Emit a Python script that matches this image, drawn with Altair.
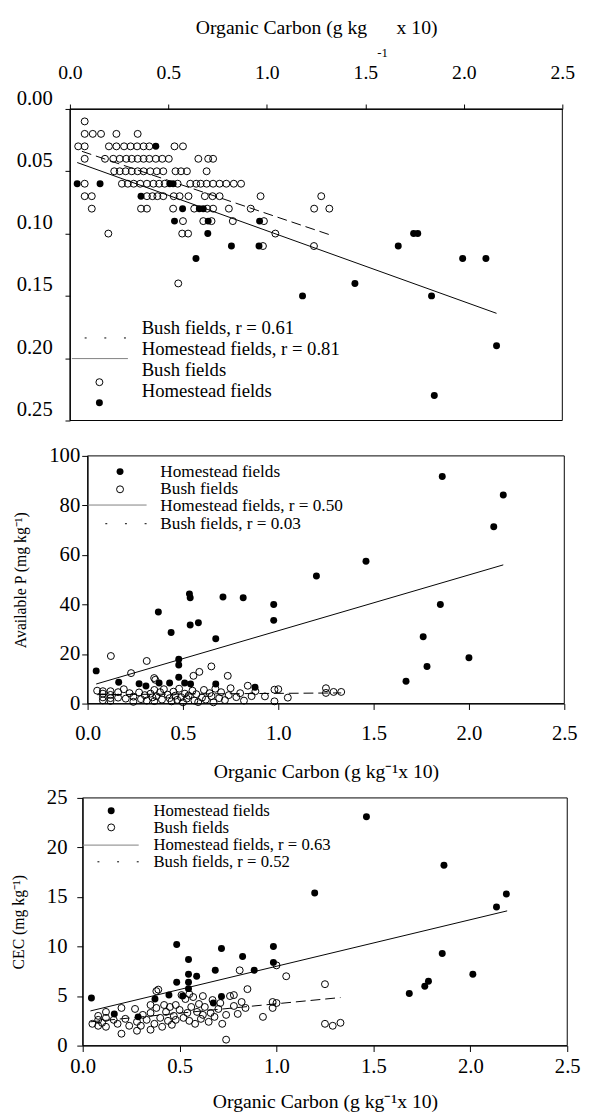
import altair as alt
import pandas as pd

FONT = "Liberation Serif"
OC_TICKS = [0.0, 0.5, 1.0, 1.5, 2.0, 2.5]
OC_DOMAIN = [0.0, 2.5]

# ---------------- Panel 1 (top) ----------------
top_bush_x = [
    0.075,
    0.075, 0.116, 0.158, 0.236, 0.344,
    0.042, 0.075, 0.198, 0.236, 0.275, 0.308, 0.341, 0.374, 0.403, 0.531, 0.574,
    0.075, 0.178, 0.220, 0.253, 0.286, 0.314, 0.344, 0.374, 0.403, 0.436, 0.469, 0.502, 0.652, 0.702, 0.727,
    0.225, 0.253, 0.283, 0.314, 0.344, 0.374, 0.408, 0.441, 0.474, 0.536, 0.564, 0.594, 0.694,
    0.075, 0.264, 0.294, 0.324, 0.357, 0.391, 0.424, 0.453, 0.481, 0.547, 0.611, 0.641, 0.664, 0.694, 0.727, 0.760, 0.794, 0.832, 0.869,
    0.075, 0.111, 0.391, 0.419, 0.444, 0.474, 0.527, 0.557, 0.602, 0.685, 0.724, 0.760, 0.968, 1.276,
    0.111, 0.361, 0.391, 0.524, 0.631, 0.697, 0.727, 0.807, 0.918, 1.240, 1.317,
    0.574, 0.677, 0.719, 0.827, 0.985,
    0.195, 0.570, 0.600, 1.043,
    0.980, 1.239,
    0.550,
]
top_bush_y = [
    0.01,
    0.02, 0.02, 0.02, 0.02, 0.02,
    0.03, 0.03, 0.03, 0.03, 0.03, 0.03, 0.03, 0.03, 0.03, 0.03, 0.03,
    0.04, 0.04, 0.04, 0.04, 0.04, 0.04, 0.04, 0.04, 0.04, 0.04, 0.04, 0.04, 0.04, 0.04, 0.04,
    0.05, 0.05, 0.05, 0.05, 0.05, 0.05, 0.05, 0.05, 0.05, 0.05, 0.05, 0.05, 0.05,
    0.06, 0.06, 0.06, 0.06, 0.06, 0.06, 0.06, 0.06, 0.06, 0.06, 0.06, 0.06, 0.06, 0.06, 0.06, 0.06, 0.06, 0.06, 0.06,
    0.07, 0.07, 0.07, 0.07, 0.07, 0.07, 0.07, 0.07, 0.07, 0.07, 0.07, 0.07, 0.07, 0.07,
    0.08, 0.08, 0.08, 0.08, 0.08, 0.08, 0.08, 0.08, 0.08, 0.08, 0.08,
    0.09, 0.09, 0.09, 0.09, 0.09,
    0.10, 0.10, 0.10, 0.10,
    0.11, 0.11,
    0.14,
]
top_home_x = [0.436, 0.037, 0.153, 0.507, 0.524, 0.361, 0.572, 0.657, 0.677, 0.531, 0.702, 0.963,
              0.700, 1.745, 1.766, 0.820, 0.960, 1.667, 0.640, 1.994, 2.112, 1.447, 1.181, 1.836, 2.166, 1.850]
top_home_y = [0.03, 0.06, 0.06, 0.06, 0.06, 0.07, 0.08, 0.08, 0.08, 0.09, 0.09, 0.09,
              0.10, 0.10, 0.10, 0.11, 0.11, 0.11, 0.12, 0.12, 0.12, 0.14, 0.15, 0.15, 0.19, 0.23]
top_home_fit_x = [0.037, 2.166]
top_home_fit_y = [0.043, 0.164]
top_bush_fit_x = [0.061, 1.320]
top_bush_fit_y = [0.034, 0.101]
top_y_ticks = [0.00, 0.05, 0.10, 0.15, 0.20, 0.25]
top_legend = ["Bush fields, r = 0.61", "Homestead fields, r = 0.81", "Bush fields", "Homestead fields"]

# ---------------- Panel 2 (Available P) ----------------
mid_home_x = [0.045, 0.163, 0.270, 0.306, 0.371, 0.375, 0.430, 0.438, 0.478, 0.478, 0.478, 0.509,
              0.534, 0.538, 0.538, 0.540, 0.581, 0.672, 0.672, 0.710, 0.816, 0.878, 0.976, 0.976,
              1.200, 1.460, 1.670, 1.760, 1.780, 1.850, 1.860, 2.000, 2.130, 2.180]
mid_home_p = [13.2, 8.6, 8.0, 7.1, 37.0, 8.3, 8.3, 28.7, 17.9, 15.6, 10.6, 8.3,
              44.3, 42.7, 31.7, 7.9, 32.6, 26.2, 7.9, 43.0, 42.7, 6.6, 40.0, 33.6,
              51.5, 57.5, 9.0, 27.0, 15.0, 40.0, 91.7, 18.5, 71.4, 84.2]
mid_bush_x = [0.05, 0.08, 0.08, 0.08, 0.08, 0.12, 0.12, 0.12, 0.12, 0.16, 0.16, 0.19, 0.20, 0.22,
              0.24, 0.24, 0.27, 0.28, 0.30, 0.31, 0.33, 0.34, 0.35, 0.35, 0.36, 0.38, 0.39, 0.40,
              0.42, 0.43, 0.44, 0.45, 0.46, 0.47, 0.48, 0.49, 0.50, 0.51, 0.52, 0.53, 0.55, 0.56,
              0.57, 0.58, 0.60, 0.61, 0.62, 0.64, 0.65, 0.66, 0.67, 0.69, 0.70, 0.72, 0.74, 0.75,
              0.78, 0.80, 0.82, 0.84, 0.86, 0.88, 0.93, 0.98, 0.98, 1.00, 1.05, 1.25, 1.25, 1.29, 1.33,
              0.122, 0.228, 0.310, 0.349, 0.355, 0.555, 0.586, 0.649, 0.735]
mid_bush_p = [5.2, 5.0, 4.0, 2.5, 1.3, 5.0, 3.5, 2.2, 1.1, 4.6, 2.4, 5.8, 2.0, 4.2,
              2.8, 0.7, 4.5, 1.8, 3.4, 1.2, 4.0, 2.5, 5.5, 1.0, 3.0, 4.6, 1.6, 5.8,
              3.6, 2.2, 0.9, 4.8, 3.2, 1.5, 6.0, 2.6, 0.5, 4.0, 2.0, 3.2, 5.2, 1.2,
              3.8, 0.6, 2.4, 5.5, 1.6, 4.2, 3.0, 0.5, 6.0, 2.2, 4.6, 1.4, 3.4, 6.2,
              2.6, 4.2, 1.2, 7.2, 3.0, 5.0, 2.9, 0.9, 5.6, 5.8, 2.4, 6.2, 4.3, 4.7, 4.7,
              19.2, 12.3, 17.2, 10.3, 9.6, 11.2, 12.8, 15.0, 11.2]
mid_home_fit_x = [0.045, 2.180]
mid_home_fit_p = [7.9, 56.0]
mid_bush_fit_x = [0.050, 1.330]
mid_bush_fit_p = [3.6, 4.3]
mid_y_ticks = [0, 20, 40, 60, 80, 100]
mid_legend = ["Homestead fields", "Bush fields", "Homestead fields, r = 0.50", "Bush fields, r = 0.03"]

# ---------------- Panel 3 (CEC) ----------------
bot_home_x = [1.464, 1.864, 1.197, 2.135, 2.186, 0.485, 0.984, 0.716, 0.546, 0.825, 0.984, 1.855,
              0.684, 0.546, 0.588, 0.885, 2.013, 0.485, 0.546, 0.546, 1.784, 1.765, 1.685, 0.445,
              0.516, 0.716, 0.373, 0.045, 0.674, 0.163, 0.286]
bot_home_c = [23.1, 18.2, 15.4, 14.0, 15.3, 10.2, 10.0, 9.8, 8.7, 9.0, 8.4, 9.3,
              7.6, 7.2, 7.0, 7.6, 7.2, 6.4, 6.4, 5.75, 6.5, 6.0, 5.25, 5.1,
              5.0, 4.96, 4.7, 4.8, 4.3, 3.2, 2.9]
bot_bush_x = [0.05, 0.08, 0.08, 0.08, 0.10, 0.12, 0.12, 0.12, 0.16, 0.18, 0.20, 0.20, 0.22, 0.24,
              0.27, 0.28, 0.28, 0.30, 0.31, 0.33, 0.35, 0.35, 0.35, 0.37, 0.38, 0.38, 0.40, 0.41,
              0.42, 0.43, 0.44, 0.45, 0.46, 0.47, 0.48, 0.48, 0.50, 0.51, 0.52, 0.53, 0.54, 0.55,
              0.56, 0.57, 0.58, 0.59, 0.60, 0.61, 0.62, 0.63, 0.65, 0.66, 0.67, 0.68, 0.70, 0.71,
              0.72, 0.74, 0.74, 0.76, 0.78, 0.80, 0.81, 0.82, 0.84, 0.85, 0.93, 0.98, 0.98, 1.00,
              1.00, 1.05, 1.25, 1.25, 1.29, 1.33, 0.39, 0.55, 0.62, 0.78]
bot_bush_c = [2.2, 3.0, 2.6, 2.0, 2.3, 3.4, 2.8, 1.9, 2.6, 2.2, 3.8, 1.2, 2.7, 2.0,
              3.7, 2.4, 1.5, 2.0, 3.1, 2.6, 4.1, 3.3, 1.6, 2.2, 5.5, 3.8, 2.8, 1.9,
              4.1, 3.4, 2.5, 3.9, 2.1, 3.0, 4.1, 2.6, 3.6, 5.1, 2.8, 4.7, 3.3, 2.5,
              3.9, 4.9, 2.2, 3.4, 4.2, 2.7, 3.1, 3.9, 2.4, 3.3, 4.6, 2.9, 3.7, 4.3,
              2.2, 3.1, 0.6, 5.0, 4.0, 3.2, 7.6, 4.4, 3.8, 5.7, 2.9, 4.4, 3.8, 8.1,
              4.3, 7.0, 6.2, 2.2, 2.0, 2.3, 5.65, 5.2, 5.0, 5.1]
bot_home_fit_x = [0.040, 2.190]
bot_home_fit_c = [3.5, 13.6]
bot_bush_fit_x = [0.040, 1.330]
bot_bush_fit_c = [2.4, 4.85]
bot_y_ticks = [0, 5, 10, 15, 20, 25]
bot_legend = ["Homestead fields", "Bush fields", "Homestead fields, r = 0.63", "Bush fields, r = 0.52"]

PT = 50
AX = dict(labelFont=FONT, titleFont=FONT, labelColor="black", titleColor="black",
          tickColor="black", domainColor="black", titleFontWeight="normal", grid=False,
          labelFlush=False, labelOverlap=False)


def df(x, y):
    return pd.DataFrame({"oc": x, "v": y})


def core_layers(xs, ys, xaxis, yaxis, ydom, bush, home, fit_h, fit_b):
    frame = alt.Chart(pd.DataFrame({"oc": [OC_DOMAIN[0]], "oc2": [OC_DOMAIN[1]],
                                    "v": [ydom[0]], "v2": [ydom[1]]})).mark_rect(
        fillOpacity=0, stroke="black", strokeWidth=1).encode(
        x=alt.X("oc:Q", scale=xs, axis=xaxis), x2="oc2",
        y=alt.Y("v:Q", scale=ys, axis=yaxis), y2="v2")
    enc = dict(x=alt.X("oc:Q", scale=xs, axis=xaxis), y=alt.Y("v:Q", scale=ys, axis=yaxis))
    lh = alt.Chart(df(*fit_h)).mark_line(color="black", strokeWidth=1).encode(**enc)
    lb = alt.Chart(df(*fit_b)).mark_line(color="black", strokeWidth=1, strokeDash=[10, 5]).encode(**enc)
    pb = alt.Chart(df(*bush)).mark_point(shape="circle", filled=False, color="black",
                                          strokeWidth=1, size=PT, opacity=1).encode(**enc)
    ph = alt.Chart(df(*home)).mark_point(shape="circle", filled=True, color="black",
                                          size=PT, opacity=1).encode(**enc)
    return [frame, lh, lb, pb, ph]


one = pd.DataFrame({"k": [0]})


def leg_text(label, x, y, size):
    return alt.Chart(pd.DataFrame({"t": [label]})).mark_text(
        align="left", baseline="middle", font=FONT, fontSize=size, color="black").encode(
        x=alt.value(x), y=alt.value(y), text="t:N")


def leg_dot(x, y, filled):
    return alt.Chart(one).mark_point(shape="circle", filled=filled, color="black",
                                     strokeWidth=1, size=PT, opacity=1).encode(
        x=alt.value(x), y=alt.value(y))


def leg_line(x1, x2, y, dash=None, color="#808080"):
    kw = dict(color=color, strokeWidth=1)
    if dash:
        kw["strokeDash"] = dash
        kw["color"] = "black"
    return alt.Chart(one).mark_rule(**kw).encode(
        x=alt.value(x1), x2=alt.value(x2), y=alt.value(y))


# ---- top panel
xs1 = alt.Scale(domain=OC_DOMAIN, nice=False, zero=False)
ys1 = alt.Scale(domain=[0, 0.25], reverse=True, nice=False)
xa1 = alt.Axis(orient="top", values=OC_TICKS, format=".1f", tickSize=5, labelPadding=22,
               title="Organic Carbon (g kg\u00a0\u00a0\u00a0\u00a0\u00a0\u00a0x 10)",
               titlePadding=26, titleFontSize=20, labelFontSize=20, **AX)
ya1 = alt.Axis(values=top_y_ticks, format=".2f", tickSize=5, labelPadding=13, labelOffset=-11,
               title=None, labelFontSize=21, **AX)
top_layers = core_layers(xs1, ys1, xa1, ya1, [0, 0.25],
                         (top_bush_x, top_bush_y), (top_home_x, top_home_y),
                         (top_home_fit_x, top_home_fit_y), (top_bush_fit_x, top_bush_fit_y))
top_layers += [
    alt.Chart(pd.DataFrame({"t": ["-1"]})).mark_text(font=FONT, fontSize=13, color="black").encode(
        x=alt.value(318), y=alt.value(-57), text="t:N"),
    leg_line(15, 57, 233, dash=[2, 18]), leg_line(2, 59, 254),
    leg_dot(30, 278, False), leg_dot(30, 299, True),
] + [leg_text(t, 73, 223 + i * 21.3, 19) for i, t in enumerate(top_legend)]
top = alt.layer(*top_layers).properties(width=501, height=317)

# ---- middle panel
xs2 = alt.Scale(domain=OC_DOMAIN, nice=False, zero=False, range=[18, 503])
ys2 = alt.Scale(domain=[0, 100], nice=False)
xa2 = alt.Axis(values=OC_TICKS, format=".1f", tickSize=6, labelPadding=14,
               title="Organic Carbon (g kg\u207b\u00b9x 10)", titlePadding=18,
               titleFontSize=20, labelFontSize=21, **AX)
ya2 = alt.Axis(values=mid_y_ticks, tickSize=6, labelPadding=2, offset=-18,
               title="Available P (mg kg\u207b\u00b9)", titlePadding=21, titleFontSize=16,
               labelFontSize=21, **AX)
mid_layers = core_layers(xs2, ys2, xa2, ya2, [0, 100],
                         (mid_bush_x, mid_bush_p), (mid_home_x, mid_home_p),
                         (mid_home_fit_x, mid_home_fit_p), (mid_bush_fit_x, mid_bush_fit_p))
mid_layers += [
    leg_dot(51, 16, True), leg_dot(51, 34, False),
    leg_line(18, 78, 50), leg_line(36, 78, 69, dash=[2, 18]),
] + [leg_text(t, 92, 16 + i * 17.7, 17.5) for i, t in enumerate(mid_legend)]
mid = alt.layer(*mid_layers).properties(width=503, height=252)

# ---- bottom panel
xs3 = alt.Scale(domain=OC_DOMAIN, nice=False, zero=False, range=[13, 506])
ys3 = alt.Scale(domain=[0, 25], nice=False, range=[312, 60])
xa3 = alt.Axis(values=OC_TICKS, format=".1f", tickSize=6, labelPadding=4,
               title="Organic Carbon (g kg\u207b\u00b9x 10)", titlePadding=16,
               titleFontSize=20, labelFontSize=21, **AX)
ya3 = alt.Axis(values=bot_y_ticks, tickSize=6, labelPadding=10, offset=-13,
               title="CEC (mg kg\u207b\u00b9)", titlePadding=20, titleFontSize=16,
               labelFontSize=21, **AX)
bot_layers = core_layers(xs3, ys3, xa3, ya3, [0, 25],
                         (bot_bush_x, bot_bush_c), (bot_home_x, bot_home_c),
                         (bot_home_fit_x, bot_home_fit_c), (bot_bush_fit_x, bot_bush_fit_c))
bot_layers += [
    leg_dot(42, 73, True), leg_dot(42, 90, False),
    leg_line(13, 70, 108), leg_line(28, 70, 125, dash=[2, 18]),
] + [leg_text(t, 85, 73 + i * 17.3, 17) for i, t in enumerate(bot_legend)]
bot = alt.layer(*bot_layers).properties(width=506, height=312)

chart = alt.vconcat(top, mid, bot, spacing=36, bounds="flush").properties(
    padding={"left": 3, "top": 0, "right": 0, "bottom": 0}
).configure_view(stroke=None)

chart.save("out.html", embed_options={"renderer": "svg", "actions": False})
